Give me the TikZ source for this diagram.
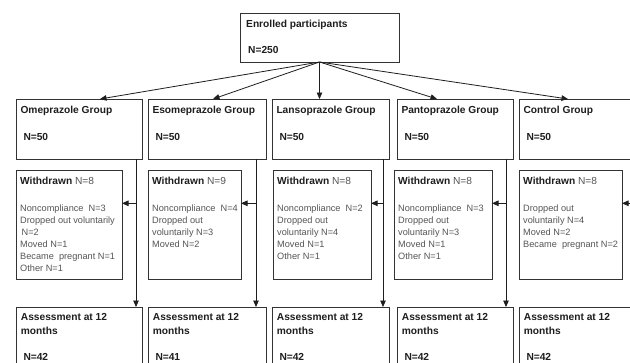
\documentclass[tikz,border=0pt]{standalone}
\usepackage{fontspec}
\setmainfont{Liberation Sans}
\usetikzlibrary{arrows.meta,calc}
\definecolor{ink}{HTML}{1E1E1E}
\definecolor{bodyc}{HTML}{555555}
\definecolor{edge}{HTML}{333333}
\tikzset{
 box/.style={draw=edge, line width=0.9pt, fill=white, inner sep=0pt, outer sep=0pt, anchor=north west},
 arr/.style={draw=ink, line width=0.8pt, -{Triangle[length=6.5pt,width=5.5pt]}},
 ttl/.style={inner sep=0pt, anchor=base west, text=ink, font=\fontsize{10.2}{13.7}\selectfont\bfseries},
 bod/.style={inner sep=0pt, anchor=base west, text=bodyc, font=\fontsize{9.2}{12.1}\selectfont},
}
\begin{document}
\begin{tikzpicture}[x=1pt,y=-1pt]
\useasboundingbox (0,0) rectangle (630,362);
\clip (0,0) rectangle (630,362);
\fill[white] (0,0) rectangle (630,362);

% boxes
\node[box, minimum width=159pt, minimum height=49pt] (E) at (240,13) {};

\node[box, minimum width=126pt, minimum height=60pt] (g1) at (16,99) {};
\node[box, minimum width=118pt, minimum height=60pt] (g2) at (148,99) {};
\node[box, minimum width=117pt, minimum height=60pt] (g3) at (272,99) {};
\node[box, minimum width=116pt, minimum height=60pt] (g4) at (397,99) {};
\node[box, minimum width=131pt, minimum height=60pt] (g5) at (519,99) {};

\node[box, minimum width=106pt, minimum height=109pt] (w1) at (16,170) {};
\node[box, minimum width=93pt, minimum height=109pt] (w2) at (148,170) {};
\node[box, minimum width=98pt, minimum height=109pt] (w3) at (273,170) {};
\node[box, minimum width=98pt, minimum height=109pt] (w4) at (394,170) {};
\node[box, minimum width=103pt, minimum height=109pt] (w5) at (519,170) {};

\node[box, minimum width=126pt, minimum height=80pt] (a1) at (16,307) {};
\node[box, minimum width=118pt, minimum height=80pt] (a2) at (148,307) {};
\node[box, minimum width=117pt, minimum height=80pt] (a3) at (272,307) {};
\node[box, minimum width=116pt, minimum height=80pt] (a4) at (397,307) {};
\node[box, minimum width=131pt, minimum height=80pt] (a5) at (519,307) {};

% connectors from enrolled
\draw[arr] (E.south) -- ([xshift=84]g1.north west);
\draw[arr] (E.south) -- ([xshift=65]g2.north west);
\draw[arr] (E.south) -- (E.south |- g3.north);
\draw[arr] (E.south) -- ([xshift=40]g4.north west);
\draw[arr] (E.south) -- ([xshift=49]g5.north west);

% vertical lines and withdrawal arrows
\foreach \i/\d in {1/6,2/10,3/6,4/7,5/6}{
  \coordinate (v\i) at ([xshift=-\d]g\i.south east);
  \coordinate (h\i) at ([yshift=-33.3]w\i.north east);
  \draw[arr] (v\i) -- (v\i |- a\i.north);
  \draw[arr] (v\i |- h\i) -- (h\i);
}

% texts
\node[ttl] (Et) at ([shift={(6,14.6)}]E.north west) {Enrolled participants};
\node[ttl] (En) at ([shift={(8,40.6)}]E.north west) {N=250};

\node[ttl] (g1t) at ([shift={(4.3,14)}]g1.north west) {Omeprazole Group};
\node[ttl] (g2t) at ([shift={(4.3,14)}]g2.north west) {Esomeprazole Group};
\node[ttl] (g3t) at ([shift={(4.3,14)}]g3.north west) {Lansoprazole Group};
\node[ttl] (g4t) at ([shift={(4.3,14)}]g4.north west) {Pantoprazole Group};
\node[ttl] (g5t) at ([shift={(4.3,14)}]g5.north west) {Control Group};
\foreach \i in {1,...,5}{
  \node[ttl] (g\i n) at ([shift={(7.3,41.3)}]g\i.north west) {N=50};
}

\foreach \i/\n in {1/8,2/9,3/8,4/8,5/8}{
  \node[ttl] (w\i t) at ([shift={(4,14.6)}]w\i.north west) {Withdrawn \mdseries\color{bodyc}N=\n};
}
\node[bod] (w1b) at ([shift={(4,41.3)}]w1.north west) {\parbox[t]{150pt}{\raggedright Noncompliance\ \ N=3\\Dropped out voluntarily\\\hspace*{1.5pt}N=2\\Moved N=1\\Became\ \ pregnant N=1\\Other N=1}};
\node[bod] (w2b) at ([shift={(4,41.3)}]w2.north west) {\parbox[t]{150pt}{\raggedright Noncompliance\ \ N=4\\Dropped out\\voluntarily N=3\\Moved N=2}};
\node[bod] (w3b) at ([shift={(4,41.3)}]w3.north west) {\parbox[t]{150pt}{\raggedright Noncompliance\ \ N=2\\Dropped out\\voluntarily N=4\\Moved N=1\\Other N=1}};
\node[bod] (w4b) at ([shift={(4,41.3)}]w4.north west) {\parbox[t]{150pt}{\raggedright Noncompliance\ \ N=3\\Dropped out\\voluntarily N=3\\Moved N=1\\Other N=1}};
\node[bod] (w5b) at ([shift={(4,41.3)}]w5.north west) {\parbox[t]{150pt}{\raggedright Dropped out\\voluntarily N=4\\Moved N=2\\Became\ \ pregnant N=2}};

\foreach \i/\n in {1/42,2/41,3/42,4/42,5/42}{
  \node[ttl] (a\i t) at ([shift={(4.7,13.6)}]a\i.north west) {\parbox[t]{150pt}{\raggedright Assessment at 12\\months}};
  \node[ttl] (a\i n) at ([shift={(7.3,53.3)}]a\i.north west) {N=\n};
}
\end{tikzpicture}
\end{document}
